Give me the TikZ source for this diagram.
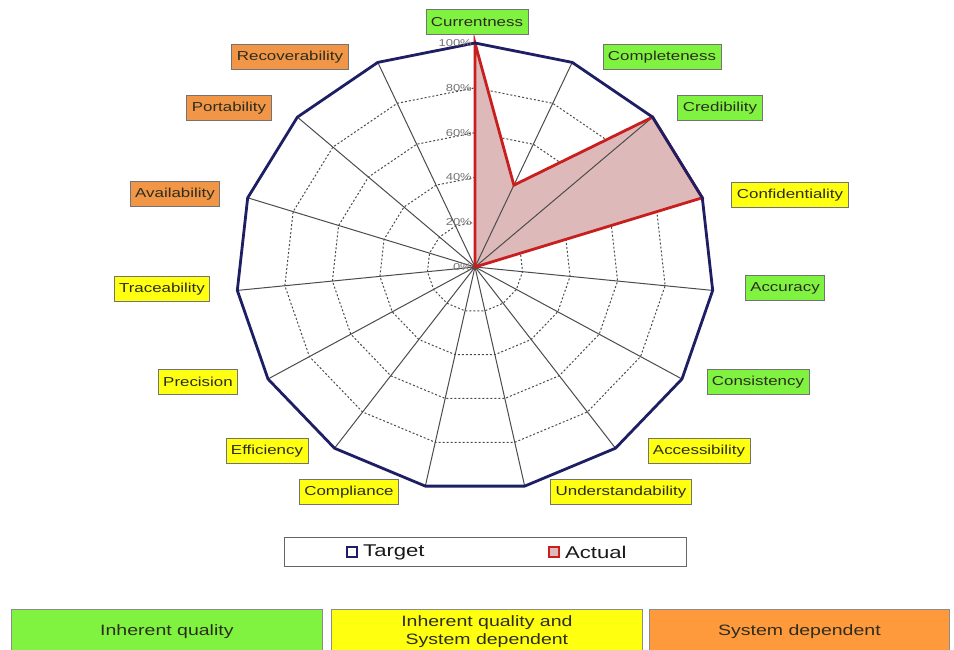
\documentclass[tikz,border=0pt]{standalone}
\usepackage{fontspec}
\setmainfont{Liberation Sans}[FakeStretch=1.3]
\usetikzlibrary{calc}
\definecolor{cgreen}{RGB}{128,242,64}
\definecolor{cyellow}{RGB}{255,255,16}
\definecolor{corange}{RGB}{240,150,70}
\definecolor{borange}{RGB}{255,154,60}
\definecolor{navy}{RGB}{30,30,100}
\definecolor{redline}{RGB}{200,30,30}
\definecolor{redfill}{RGB}{222,185,185}
\definecolor{txt}{RGB}{45,45,30}
\tikzset{
  lab/.style={draw=black!55, line width=0.9pt, text=txt, minimum height=25pt, inner xsep=5pt, inner ysep=2pt,
    font=\fontsize{13}{15}\selectfont},
  ring/.style={draw=black!70, line width=1pt, dash pattern=on 2pt off 2pt},
  spoke/.style={draw=black!70, line width=1pt},
  outer/.style={draw=navy, line width=2.8pt, line join=round},
  actual/.style={draw=redline, line width=2.8pt, fill=redfill, line join=miter},
  pct/.style={text=black!55, font=\fontsize{10}{12}\selectfont, inner sep=1pt},
  bigbox/.style={draw=black!45, line width=0.8pt, minimum width=311pt, minimum height=44pt, text=txt,
    align=center, font=\fontsize{15}{18}\selectfont},
  legtxt/.style={font=\fontsize{17}{19}\selectfont, text=black!90, inner sep=0pt}
}
\begin{document}
\begin{tikzpicture}[x=1pt,y=-1pt]
\clip (0,0) rectangle (954,649);
\fill[white] (0,0) rectangle (954,649);
\coordinate (c) at (475,267);
\foreach \k in {0,...,14}{
  \coordinate (v\k) at ({475+239*sin(24*\k)},{267-224*cos(24*\k)});
}
% rings
\foreach \f in {0.2,0.4,0.6,0.8}{
  \draw[ring] plot[samples at={0,24,...,360}, variable=\t] ({475+\f*239*sin(\t)},{267-\f*224*cos(\t)});
}
% actual fill
\coordinate (a1) at ($(c)!0.4!(v1)$);
\fill[redfill] (c) -- (v0) -- (a1) -- (v2) -- (v3) -- cycle;
% spokes
\foreach \k in {0,...,14}{ \draw[spoke] (c) -- (v\k); }
% actual outline
\draw[actual, fill=none] (c) -- (v0) -- (a1) -- (v2) -- (v3) -- cycle;
% target outline
\draw[outer] (v0) -- (v1) -- (v2) -- (v3) -- (v4) -- (v5) -- (v6) -- (v7) -- (v8) -- (v9) -- (v10) -- (v11) -- (v12) -- (v13) -- (v14) -- cycle;
% percent labels
\foreach \f in {0,20,40,60,80,100}{
  \node[pct, anchor=east] (p\f) at (473,{267-2.24*\f}) {\f\%};
}
% axis labels
\node[lab, fill=cgreen]  (currentness)  at (477,22)   {Currentness};
\node[lab, fill=cgreen]  (completeness) at (662,57)   {Completeness};
\node[lab, fill=cgreen]  (credibility)  at (720,108)  {Credibility};
\node[lab, fill=cyellow] (confid)       at (790,195)  {Confidentiality};
\node[lab, fill=cgreen]  (accuracy)     at (785,288)  {Accuracy};
\node[lab, fill=cgreen]  (consistency)  at (758,382)  {Consistency};
\node[lab, fill=cyellow] (accessib)     at (699,451)  {Accessibility};
\node[lab, fill=cyellow] (understand)   at (621,492)  {Understandability};
\node[lab, fill=cyellow] (compliance)   at (349,492)  {Compliance};
\node[lab, fill=cyellow] (efficiency)   at (267,451)  {Efficiency};
\node[lab, fill=cyellow] (precision)    at (198,382)  {Precision};
\node[lab, fill=cyellow] (traceab)      at (162,289)  {Traceability};
\node[lab, fill=corange] (availab)      at (175,194)  {Availability};
\node[lab, fill=corange] (portab)       at (229,108)  {Portability};
\node[lab, fill=corange] (recover)      at (290,57)   {Recoverability};
% legend
\node[draw=black!60, line width=0.9pt, minimum width=402pt, minimum height=29pt, inner sep=0pt] (legend) at (485,551.5) {};
\node[draw=navy, line width=2pt, fill=white, minimum size=10pt, inner sep=0pt] (sqT) at (352,552) {};
\node[legtxt, anchor=west] (tT) at (363,552) {Target};
\node[draw=redline, line width=2pt, fill=redfill, minimum size=10pt, inner sep=0pt] (sqA) at (554,552) {};
\node[legtxt, anchor=west] (tA) at (565,552) {Actual};
% bottom category boxes
\node[bigbox, fill=cgreen,  anchor=north west] (bg) at (11,609)  {Inherent quality};
\node[bigbox, fill=cyellow, anchor=north west] (by) at (331,609) {Inherent quality and\\System dependent};
\node[bigbox, fill=borange, anchor=north west, minimum width=300pt] (bo) at (649,609) {System dependent};
\end{tikzpicture}
\end{document}
